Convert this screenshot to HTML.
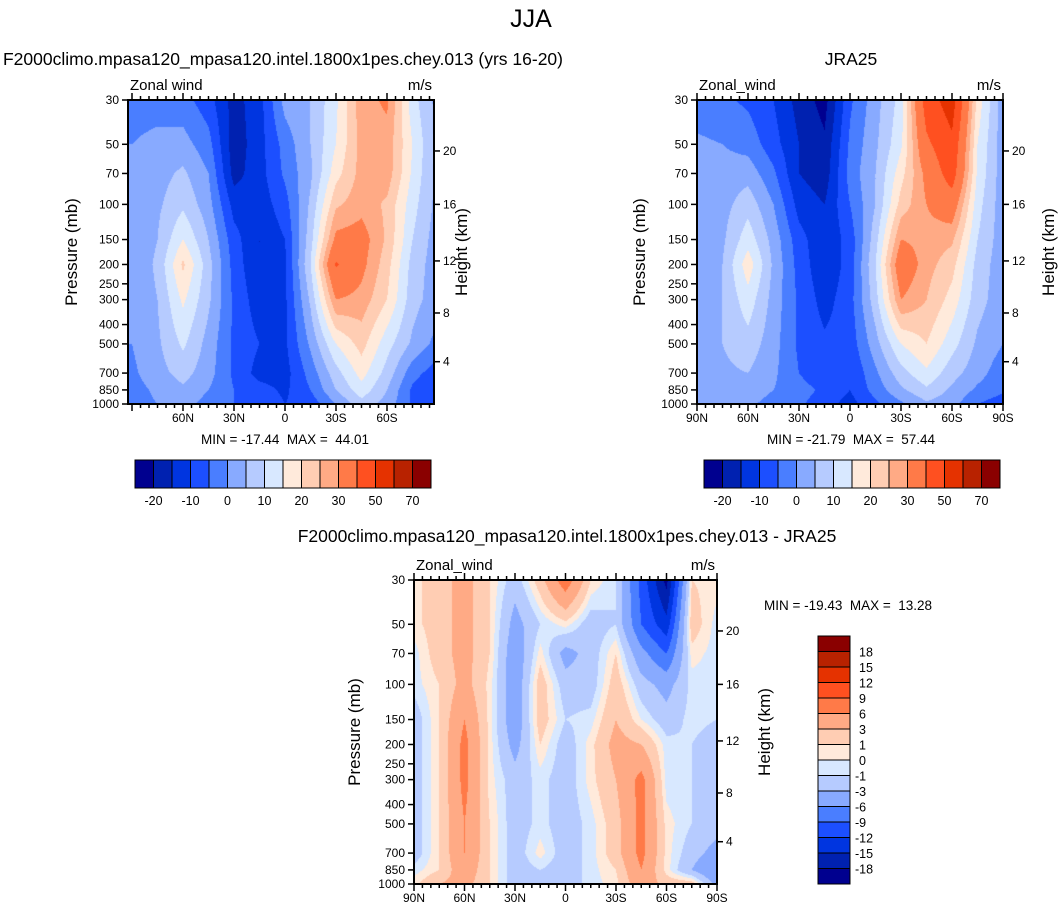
<!DOCTYPE html>
<html><head><meta charset="utf-8">
<style>
body{margin:0;background:#fff;width:1063px;height:915px;position:relative;overflow:hidden;font-family:"Liberation Sans",sans-serif}
canvas{position:absolute;left:0;top:0}
svg{position:absolute;left:0;top:0}
text{font-family:"Liberation Sans",sans-serif;fill:#000}
</style></head><body>
<canvas id="cv" width="1063" height="915"></canvas>
<svg id="sv" width="1063" height="915"></svg>
<script>
const lats=[90,75,60,45,30,15,0,-15,-30,-45,-60,-75,-90];
const levs=[30,50,70,100,150,200,300,500,700,850,1000];
const model=[
[-3,-3,-3,-8,-17,-12,2,5,14,28,31,12,3],
[0,2,2,-3,-18,-12,-3,5,15,27,28,15,3],
[1,3,6,0,-17,-12,-4,4,18,27,28,14,3],
[1,4,9,2,-12,-13,-7,6,24,28,24,12,3],
[1,5,15,5,-8,-15,-10,8,32,33,24,10,2],
[1,6,21,7,-7,-15,-11,10,41,32,22,8,2],
[1,5,16,6,-6,-13,-11,6,30,28,20,7,2],
[0,4,11,3,-6,-10,-11,1,15,22,12,4,-2],
[-1,3,7,2,-6,-12,-12,-3,8,17,8,-3,-8],
[-2,1,4,0,-5,-8,-11,-5,5,13,5,-6,-11],
[-2,0,2,-2,-5,-6,-10,-8,0,8,3,-6,-10]];
const obs=[
[-3,-4,-6,-10,-17,-22,-6,3,12,45,55,18,2],
[1,0,-2,-8,-15,-19,-4,4,14,38,48,15,2],
[2,2,3,-4,-15,-18,-3,5,18,32,45,14,2],
[2,3,8,0,-12,-15,-5,5,22,30,35,12,2],
[2,4,13,3,-8,-14,-8,8,30,28,26,10,2],
[2,5,18,4,-7,-14,-8,10,36,27,22,8,2],
[3,5,13,3,-6,-12,-7,8,30,25,18,7,2],
[3,5,8,2,-6,-9,-8,3,15,20,12,4,0],
[2,4,5,1,-5,-9,-10,-1,8,14,7,2,-3],
[1,2,3,0,-3,-6,-10,-3,4,9,4,-1,-4],
[1,1,1,-2,-4,-8,-12,-6,-1,4,2,-5,-8]];
const diff=[
[0.5,2,4,1,-2,2,8,1,-1,-10,-19,1,0.5],
[0.5,2,4,1,-4,-1,0.5,-2,-1,-9,-14,2,-0.5],
[-0.5,2,4,1,-5,0.5,-4,-2,1,-5,-9,0.5,-0.5],
[-0.5,1,4,0.5,-5,2,-2,-2,2,-2,-4,-0.5,-0.5],
[-2,1,6,0.5,-5,2,-1,-0.5,3,0,-2,-0.5,-1],
[-2,1,7,0.5,-4,1,-2,0.5,4,3,-0.5,-1,-2],
[-2,1,7,0.5,-2,-0.5,-2,0.5,3,7,-0.5,-1,-2],
[-2,1,6,1,-2,-0.5,-2,-0.5,2,7,0.5,-1,-2],
[-2,1,6,1,-2,0.5,-2,-0.5,2,7,0.5,-2,-4],
[-0.5,1,5,1,-2,-1,-2,-0.5,1,6,0.5,-3,-6],
[0.5,3,4,1,-2,-1,-2,-0.5,0.5,5,2,2,-4]];
const fullLevels=[-20,-15,-10,-5,0,5,10,15,20,25,30,40,50,60,70];
const diffLevels=[-18,-15,-12,-9,-6,-3,-1,0,1,3,6,9,12,15,18];
const fullLabels=["-20","-10","0","10","20","30","50","70"];
const colors=["#00008f","#0021b0","#0035e0","#1c4fff","#4a7eff","#88aaff","#b6cbff","#d8e8ff","#ffeadb","#ffcdb3","#ffaa85","#ff7a48","#ff5020","#e53200","#b82200","#8a0000"];
const pTicks=[30,50,70,100,150,200,250,300,400,500,700,850,1000];
const hTicks=[20,16,12,8,4];
const hTickP=[54,100,192,350,614];

const NS="http://www.w3.org/2000/svg";
const sv=document.getElementById('sv');
const ctx=document.getElementById('cv').getContext('2d');
function el(tag,attrs,txt){const e=document.createElementNS(NS,tag);for(const k in attrs)e.setAttribute(k,attrs[k]);if(txt!==undefined)e.textContent=txt;sv.appendChild(e);return e;}
function hex(c){return [parseInt(c.substr(1,2),16),parseInt(c.substr(3,2),16),parseInt(c.substr(5,2),16)];}
const rgb=colors.map(hex);
function classify(v,lv){let i=0;while(i<lv.length&&v>=lv[i])i++;return i;}

function panel(cfg){
  const T=cfg.top,H=304,L=cfg.left,R=cfg.right;
  const yP=p=>T+Math.log(p/30)/Math.log(1000/30)*H;
  const xL=lat=>cfg.x0+(0-lat)*cfg.k;
  const latX=x=>-(x-cfg.x0)/cfg.k;
  const pY=y=>30*Math.exp((y-T)/H*Math.log(1000/30));
  const lp=levs.map(p=>Math.log(p));
  const img=ctx.createImageData(R-L,H);
  for(let py=0;py<H;py++){
    const lpv=Math.log(pY(T+py+0.5));
    let j=0;while(j<levs.length-2&&lpv>lp[j+1])j++;
    let fy=(lpv-lp[j])/(lp[j+1]-lp[j]);fy=Math.max(0,Math.min(1,fy));
    for(let px=0;px<R-L;px++){
      let lat=latX(L+px+0.5);lat=Math.max(-90,Math.min(90,lat));
      let i=Math.min(11,Math.floor((90-lat)/15));let fx=(90-lat)/15-i;
      const d=cfg.data;
      const v=(d[j][i]*(1-fx)+d[j][i+1]*fx)*(1-fy)+(d[j+1][i]*(1-fx)+d[j+1][i+1]*fx)*fy;
      const c=rgb[classify(v,cfg.levels)];const o=(py*(R-L)+px)*4;
      img.data[o]=c[0];img.data[o+1]=c[1];img.data[o+2]=c[2];img.data[o+3]=255;
    }
  }
  ctx.putImageData(img,L,T);
  const b=el('rect',{x:L,y:T,width:R-L,height:H,fill:'none',stroke:'#000','stroke-width':2});
  
  pTicks.forEach(p=>{const y=yP(p);el('line',{x1:L-6,y1:y,x2:L,y2:y,stroke:'#000','stroke-width':1.5});
    const t=el('text',{x:L-9,y:y+4,'font-size':12,'text-anchor':'end'},String(p));
    });
  hTicks.forEach((h,n)=>{const y=yP(hTickP[n]);el('line',{x1:R,y1:y,x2:R+6,y2:y,stroke:'#000','stroke-width':1.5});
    const t=el('text',{x:R+9,y:y+4,'font-size':12},String(h));
    });
  for(let lat=90;lat>=-90;lat-=5){const x=xL(lat);if(x<L-1||x>R+1)continue;const mj=lat%30===0;const len=mj?7:4;
    el('line',{x1:x,y1:T+H,x2:x,y2:T+H+len,stroke:'#000','stroke-width':1.5});
    el('line',{x1:x,y1:T,x2:x,y2:T-len,stroke:'#000','stroke-width':1.5});
    if(mj&&cfg.xlabels.includes(lat)){const s=lat===0?'0':Math.abs(lat)+(lat>0?'N':'S');
      const t=el('text',{x:x,y:T+H+18,'font-size':12,'text-anchor':'middle'},s);
      }}
  let t=el('text',{x:cfg.ylx,y:T+152,'font-size':17,'text-anchor':'middle',transform:`rotate(-90 ${cfg.ylx} ${T+152})`},'Pressure (mb)');
  
  t=el('text',{x:cfg.yrx,y:T+152,'font-size':17,'text-anchor':'middle',transform:`rotate(-90 ${cfg.yrx} ${T+152})`},'Height (km)');
  
  t=el('text',{x:L+2,y:T-10,'font-size':15},cfg.varname);
  
  t=el('text',{x:R-2,y:T-10,'font-size':15,'text-anchor':'end'},'m/s');
  
}
panel({name:'model',top:100,left:128,right:434,x0:285,k:1.7,data:model,levels:fullLevels,xlabels:[60,30,0,-30,-60],ylx:77,yrx:467,varname:'Zonal wind'});
panel({name:'jra25',top:100,left:697,right:1003,x0:850,k:306/180,data:obs,levels:fullLevels,xlabels:[90,60,30,0,-30,-60,-90],ylx:645,yrx:1054,varname:'Zonal_wind'});
panel({name:'difference',top:580,left:414,right:717,x0:565.5,k:303/180,data:diff,levels:diffLevels,xlabels:[90,60,30,0,-30,-60,-90],ylx:360,yrx:770,varname:'Zonal_wind'});

function hbar(x0,name){
  const w=18.5;
  colors.forEach((c,i)=>{const r=el('rect',{x:x0+i*w,y:460,width:w,height:28,fill:c,stroke:'#000','stroke-width':1});
    });
  fullLabels.forEach((s,n)=>{const t=el('text',{x:x0+(2*n+1)*w,y:505,'font-size':12.5,'text-anchor':'middle'},s);
    });
}
hbar(135,'model-colorbar');hbar(704,'jra25-colorbar');
const bh=15.5;
colors.forEach((c,i)=>{const r=el('rect',{x:818,y:636+(15-i)*bh,width:32,height:bh,fill:c,stroke:'#000','stroke-width':1});
  });
diffLevels.forEach((v,i)=>{const t=el('text',{x:v<0?855:859,y:636+(15-i-1)*bh+bh+5,'font-size':12.5},String(v));
  });

let t;
t=el('text',{x:531,y:27,'font-size':25,'text-anchor':'middle'},'JJA');
t=el('text',{x:283,y:65,'font-size':17.5,'text-anchor':'middle'},'F2000climo.mpasa120_mpasa120.intel.1800x1pes.chey.013 (yrs 16-20)');
t=el('text',{x:851,y:65,'font-size':17.5,'text-anchor':'middle'},'JRA25');
t=el('text',{x:567,y:542,'font-size':17.5,'text-anchor':'middle'},'F2000climo.mpasa120_mpasa120.intel.1800x1pes.chey.013 - JRA25');
t=el('text',{x:285,y:444,'font-size':13.5,'text-anchor':'middle'},'MIN = -17.44\u00a0\u00a0MAX =\u00a0\u00a044.01');
t=el('text',{x:851,y:444,'font-size':13.5,'text-anchor':'middle'},'MIN = -21.79\u00a0\u00a0MAX =\u00a0\u00a057.44');
t=el('text',{x:848,y:610,'font-size':13.5,'text-anchor':'middle'},'MIN = -19.43\u00a0\u00a0MAX =\u00a0\u00a013.28');
</script>
</body></html>
